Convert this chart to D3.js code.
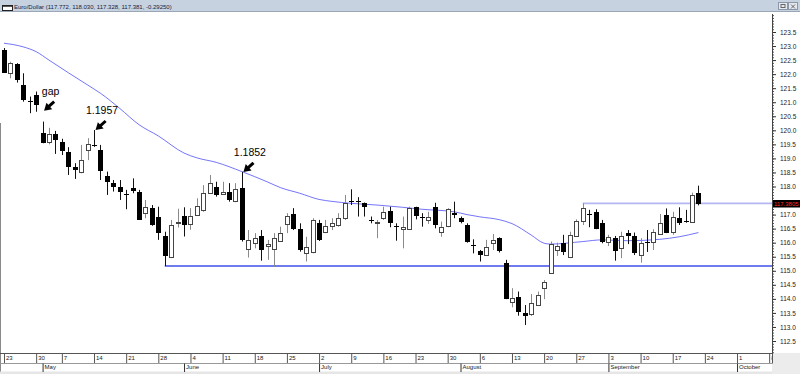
<!DOCTYPE html>
<html>
<head>
<meta charset="utf-8">
<script src="https://cdn.jsdelivr.net/npm/d3@7"></script>
<style>
  html, body { margin: 0; padding: 0; background: #fff; }
  svg { display: block; font-family: "Liberation Sans", Arial, sans-serif; }
</style>
</head>
<body>
<div id="chart"></div>
<script>
// ---------- Data ----------
const title = "Euro/Dollar (117.772, 118.030, 117.328, 117.381, -0.29250)";
const firstDay = "2018-04-23";
const lastDay = "2018-10-10";
const holidays = ["2018-05-01"];

const opens = [122.86,122.05,122.35,121.61,121.06,121.25,119.92,119.58,119.86,119.59,
  119.23,118.68,118.53,119.28,119.49,119.30,118.38,118.12,117.97,117.72,
  117.94,117.82,117.05,117.22,116.90,116.24,115.49,116.71,116.94,116.66,
  116.99,117.17,117.78,117.97,117.76,117.82,117.46,117.94,115.78,115.98,
  116.24,115.86,115.78,116.07,116.66,117.02,116.48,115.62,115.68,116.70,
  116.38,116.59,116.62,116.88,117.50,117.47,117.40,116.79,116.71,116.87,
  117.13,116.60,116.51,116.48,117.26,116.90,116.83,117.26,116.39,116.60,
  117.07,116.87,116.63,115.92,115.71,115.54,115.98,116.16,115.29,113.87,
  114.08,113.49,113.49,113.78,114.41,114.93,115.74,115.98,115.48,116.24,
  116.78,117.02,117.10,116.71,116.00,116.17,115.82,116.36,116.25,115.56,
  116.04,116.04,116.31,116.99,116.36,116.87,116.76,116.75,117.77];

const highs = [122.93,122.44,122.39,122.03,121.20,121.38,120.31,120.09,119.98,119.70,
  119.40,118.83,119.48,119.72,120.01,119.48,118.53,118.23,118.23,117.88,
  118.29,117.88,117.52,117.34,117.28,116.39,116.81,117.21,117.26,117.23,
  117.58,118.05,118.41,118.17,118.17,118.12,118.12,118.52,116.45,116.34,
  116.45,116.10,116.34,116.57,117.05,117.23,116.69,116.21,116.87,116.81,
  116.81,116.87,117.05,117.70,117.90,117.62,117.43,116.93,116.81,117.28,
  117.28,116.69,116.93,117.28,117.28,117.05,117.10,117.42,116.75,117.23,
  117.46,116.93,116.69,116.12,115.74,116.10,116.31,116.19,115.39,114.38,
  114.26,113.78,114.17,114.26,114.67,116.04,116.00,116.28,116.39,116.83,
  117.40,117.17,117.19,116.81,116.28,116.24,116.39,116.45,116.36,116.16,
  116.45,116.48,117.02,117.22,117.10,117.26,117.17,117.78,118.03];

const lows = [122.04,121.85,121.70,121.02,120.61,120.66,119.54,119.50,119.16,119.12,
  118.41,118.27,118.47,118.94,119.41,118.23,117.70,117.82,117.52,117.19,
  117.76,116.81,116.87,116.60,116.10,115.17,115.45,116.54,116.22,116.46,
  116.97,117.10,117.76,117.64,117.70,117.46,117.44,116.04,115.47,115.80,
  115.36,115.39,115.15,116.04,116.34,116.45,115.68,115.33,115.62,116.06,
  116.34,116.45,116.57,116.81,117.34,116.93,116.93,116.69,116.16,116.81,
  116.55,116.07,115.80,116.45,116.83,116.57,116.67,116.51,116.21,116.55,
  116.87,116.69,116.00,115.62,115.33,115.53,115.74,115.65,113.99,113.70,
  113.40,113.07,113.39,113.75,113.99,114.89,115.53,115.56,115.45,116.21,
  116.63,116.55,116.48,115.98,115.88,115.36,115.45,115.95,115.56,115.29,
  115.67,115.74,116.28,116.34,116.28,116.63,116.71,116.75,117.33];

const closes = [122.05,122.41,121.79,121.08,121.03,120.90,119.58,119.86,119.63,119.28,
  118.71,118.56,118.94,119.50,119.47,118.57,118.17,117.99,117.78,117.68,
  117.82,116.83,117.28,116.63,116.33,115.53,116.63,116.74,116.63,116.94,
  117.30,117.78,118.12,117.70,117.82,117.55,117.90,116.10,116.10,116.16,
  115.74,115.94,116.16,116.34,116.96,116.48,115.72,115.84,116.81,116.10,
  116.59,116.69,116.87,117.42,117.45,117.45,117.25,116.77,116.75,117.10,
  116.69,116.56,116.57,117.22,116.93,116.85,116.93,116.63,116.57,117.19,
  116.99,116.71,116.04,115.90,115.56,115.83,116.10,115.68,114.02,114.02,
  113.55,113.39,113.87,114.13,114.61,115.96,115.88,115.65,116.27,116.77,
  117.23,117.00,116.51,116.04,116.19,115.72,116.24,116.25,115.65,115.98,
  116.02,116.39,116.71,116.36,116.90,116.69,116.74,117.70,117.38];

// moving average, read at selected bars
const maIdx = [0,3,5,7,10,12,14,15,18,21,24,28,30,33,37,41,43,46,49,51,54,58,62,65,70,72,74,77,79,82,84,85,90,93,97,102,105,108];
const maVal = [123.10,122.97,122.80,122.50,122.05,121.76,121.47,121.32,120.78,120.20,
  119.80,119.19,119.02,118.86,118.53,118.16,117.96,117.76,117.54,117.47,
  117.40,117.34,117.26,117.19,117.10,117.00,116.92,116.82,116.68,116.27,
  115.98,115.95,116.04,116.10,116.07,116.12,116.21,116.36];

// trend lines: start bar and level
const supportStart = 25, supportLevel = 115.17;
const resistStart = 90, resistLevel = 117.40;
const lastPrice = 117.3805;

// annotations
const annLabels = ["gap", "1.1957", "1.1852"];
const annIdx = [6, 14, 37];
const annPrice = [120.70, 120.01, 118.52];

const yMajor = d3.range(1125, 1240, 5).map(v => v / 10);
const yMinor = d3.range(1120, 1242, 1).map(v => v / 10);

// ---------- Layout ----------
const width = 800, height = 374;
const plot = { left: 2, right: 772, top: 11, bottom: 353 };

const fmtISO = d3.timeFormat("%Y-%m-%d");
const parse = d3.timeParse("%Y-%m-%d");
const days = d3.timeDay.range(parse(firstDay), parse(lastDay))
  .filter(d => d.getDay() > 0 && d.getDay() < 6 && !holidays.includes(fmtISO(d)));

const x = d3.scalePoint()
  .domain(days)
  .range([4, 4 + (days.length - 1) * 6.43]);

const y = d3.scaleLinear()
  .domain([112.5, 123.5])
  .range([341, 32]);

const candles = opens.map((o, i) => ({
  date: days[i], o, h: highs[i], l: lows[i], c: closes[i]
}));

const svg = d3.select("#chart")
  .append("svg")
  .attr("width", width)
  .attr("height", height);

svg.append("defs").append("clipPath").attr("id", "plotclip")
  .append("rect")
  .attr("x", plot.left).attr("y", plot.top)
  .attr("width", plot.right - plot.left).attr("height", plot.bottom - plot.top);

svg.select("defs").append("clipPath").attr("id", "xclip")
  .append("rect")
  .attr("x", 0).attr("y", plot.bottom)
  .attr("width", plot.right).attr("height", 30);

// ---------- Title bar ----------
svg.append("rect")
  .attr("x", 0).attr("y", 0).attr("width", width).attr("height", 11)
  .attr("fill", "#c6d2df");
svg.append("line")
  .attr("x1", 0).attr("x2", width).attr("y1", 11.5).attr("y2", 11.5)
  .attr("stroke", "#9aa7b6");
svg.append("rect")
  .attr("x", 2.5).attr("y", 5.5).attr("width", 10).attr("height", 5)
  .attr("fill", "#fff").attr("stroke", "#222");
svg.append("line")
  .attr("x1", 2.5).attr("x2", 12.5).attr("y1", 6).attr("y2", 6)
  .attr("stroke", "#222").attr("stroke-width", 1.5);
svg.append("text")
  .attr("x", 14).attr("y", 9.3)
  .attr("font-size", 6)
  .attr("fill", "#15233f")
  .text(title);

[778.5, 788.5].forEach((bx, k) => {
  svg.append("rect")
    .attr("x", bx).attr("y", 2.5).attr("width", 9).attr("height", 7)
    .attr("fill", "#e4e9ef").attr("stroke", "#8c98a8");
  if (k === 0) {
    svg.append("rect")
      .attr("x", bx + 2.5).attr("y", 4.5).attr("width", 4).attr("height", 3)
      .attr("fill", "none").attr("stroke", "#666");
  } else {
    svg.append("path")
      .attr("d", `M${bx + 2.5},4.5L${bx + 6.5},8.5M${bx + 6.5},4.5L${bx + 2.5},8.5`)
      .attr("stroke", "#666");
  }
});

// left border
svg.append("line")
  .attr("x1", 0.5).attr("x2", 0.5).attr("y1", 123).attr("y2", 372)
  .attr("stroke", "#8a8a8a");

// ---------- Plot ----------
const g = svg.append("g").attr("clip-path", "url(#plotclip)");

// support / resistance
g.append("line")
  .attr("x1", x(days[supportStart])).attr("x2", plot.right)
  .attr("y1", y(supportLevel)).attr("y2", y(supportLevel))
  .attr("stroke", "#3f4fe6").attr("stroke-width", 1.3);

g.append("line")
  .attr("x1", x(days[resistStart])).attr("x2", plot.right)
  .attr("y1", y(resistLevel)).attr("y2", y(resistLevel))
  .attr("stroke", "#b3b8f2").attr("stroke-width", 1.6);

// moving average
const maLine = d3.line()
  .x((d, i) => x(days[maIdx[i]]))
  .y(d => y(d))
  .curve(d3.curveMonotoneX);

g.append("path")
  .datum(maVal)
  .attr("d", maLine)
  .attr("fill", "none")
  .attr("stroke", "#4848f8")
  .attr("stroke-opacity", 0.85)
  .attr("stroke-width", 0.9);

// candles
const cg = g.append("g")
  .selectAll("g")
  .data(candles)
  .join("g");

cg.append("line")
  .attr("x1", d => Math.round(x(d.date)) + 0.5)
  .attr("x2", d => Math.round(x(d.date)) + 0.5)
  .attr("y1", d => y(d.h))
  .attr("y2", d => y(d.l))
  .attr("stroke", d => d.c < d.o ? "#111" : "#8a8a8a")
  .attr("stroke-width", 1);

cg.append("rect")
  .attr("x", d => Math.round(x(d.date)) - (d.c < d.o ? 2 : 1.5))
  .attr("width", d => d.c < d.o ? 5 : 4)
  .attr("y", d => Math.round(y(Math.max(d.o, d.c))) + (d.c < d.o ? 0 : 0.5))
  .attr("height", d => Math.max(1, Math.round(Math.abs(y(d.o) - y(d.c)))))
  .attr("fill", d => d.c < d.o ? "#000" : "#fff")
  .attr("stroke", d => d.c < d.o ? "none" : "#444")
  .attr("stroke-width", 1);

// annotations
annLabels.forEach((label, i) => {
  const tx = x(days[annIdx[i]]) + 1.5;
  const ty = y(annPrice[i]);
  const ux = 0.747, uy = -0.669;
  const nx = 0.669, ny = 0.747;
  const bx = tx + 7 * ux, by = ty + 7 * uy;
  g.append("path")
    .attr("d", `M${tx},${ty}L${bx + 4.3 * nx},${by + 4.3 * ny}L${bx - 4.3 * nx},${by - 4.3 * ny}Z`)
    .attr("fill", "#000");
  g.append("line")
    .attr("x1", bx - ux).attr("y1", by - uy)
    .attr("x2", tx + 13.5 * ux).attr("y2", ty + 13.5 * uy)
    .attr("stroke", "#000").attr("stroke-width", 3);
  g.append("text")
    .attr("x", tx + 6.5).attr("y", ty - 16)
    .attr("text-anchor", "middle")
    .attr("font-size", 10.5)
    .attr("fill", "#000")
    .text(label);
});

// ---------- Price axis ----------
svg.append("rect")
  .attr("x", plot.right).attr("y", plot.bottom)
  .attr("width", width - plot.right).attr("height", height - plot.bottom)
  .attr("fill", "#ececec");

const yAxisMinor = svg.append("g")
  .attr("transform", `translate(${plot.right},0)`)
  .call(d3.axisRight(y).tickValues(yMinor.filter(v => y(v) > 14 && y(v) < plot.bottom)).tickSize(2).tickFormat(""));
yAxisMinor.select(".domain").remove();
yAxisMinor.selectAll("line").attr("stroke", "#555");

// labels hidden behind the last-price tag are left out
const tagY = Math.round(y(lastPrice));
const yAxis = svg.append("g")
  .attr("transform", `translate(${plot.right},0)`)
  .call(d3.axisRight(y).tickValues(yMajor).tickSize(4).tickPadding(4).tickFormat(d3.format(".1f")));
yAxis.select(".domain").remove();
yAxis.selectAll("line").attr("stroke", "#333");
yAxis.selectAll("text")
  .attr("font-family", "Liberation Sans, Arial, sans-serif")
  .attr("font-size", 6.5)
  .attr("fill", "#222");
yAxis.selectAll(".tick")
  .filter(d => Math.abs(y(d) - tagY) < 7)
  .select("text").remove();

svg.append("line")
  .attr("x1", plot.right + 0.5).attr("x2", plot.right + 0.5)
  .attr("y1", 14).attr("y2", plot.bottom)
  .attr("stroke", "#444");

// last price tag
svg.append("rect")
  .attr("x", plot.right + 1).attr("y", tagY - 4)
  .attr("width", 27).attr("height", 7.5)
  .attr("fill", "#000");
svg.append("text")
  .attr("x", plot.right + 2).attr("y", tagY + 2)
  .attr("font-size", 6)
  .attr("fill", "#ff2b2b")
  .text(lastPrice.toFixed(4));

// ---------- Date axis ----------
const xg = svg.append("g").attr("clip-path", "url(#xclip)");

xg.append("rect")
  .attr("x", 0).attr("y", 371.5).attr("width", plot.right).attr("height", 3)
  .attr("fill", "#e6e6e6");

const mondays = days.filter(d => d.getDay() === 1);
const monthStarts = days.filter((d, i) => i > 0 && d.getMonth() !== days[i - 1].getMonth());

const weekAxis = xg.append("g")
  .attr("transform", `translate(0,${plot.bottom + 0.5})`)
  .call(d3.axisBottom(x).tickValues(mondays).tickSize(9.5).tickFormat(d3.timeFormat("%-d")));
weekAxis.select(".domain")
  .attr("d", `M0,0H${plot.right}`)
  .attr("stroke", "#555");
weekAxis.selectAll("line").attr("stroke", "#555");
weekAxis.selectAll("text")
  .attr("x", 1.5).attr("y", 2).attr("dy", "0.71em")
  .attr("text-anchor", "start")
  .attr("font-family", "Liberation Sans, Arial, sans-serif")
  .attr("font-size", 6)
  .attr("fill", "#222");

xg.append("line")
  .attr("x1", 0).attr("x2", plot.right).attr("y1", 363.5).attr("y2", 363.5)
  .attr("stroke", "#999");

const monthAxis = xg.append("g")
  .attr("transform", `translate(0,363.5)`)
  .call(d3.axisBottom(x).tickValues(monthStarts).tickSize(8.5).tickFormat(d3.timeFormat("%B")));
monthAxis.select(".domain").remove();
monthAxis.selectAll("line").attr("stroke", "#333");
monthAxis.selectAll("text")
  .attr("x", 1.5).attr("y", 1.5).attr("dy", "0.71em")
  .attr("text-anchor", "start")
  .attr("font-family", "Liberation Sans, Arial, sans-serif")
  .attr("font-size", 6)
  .attr("fill", "#222");

svg.append("line")
  .attr("x1", plot.right + 0.5).attr("x2", plot.right + 0.5)
  .attr("y1", plot.bottom).attr("y2", 363.5)
  .attr("stroke", "#555");
</script>
</body>
</html>
